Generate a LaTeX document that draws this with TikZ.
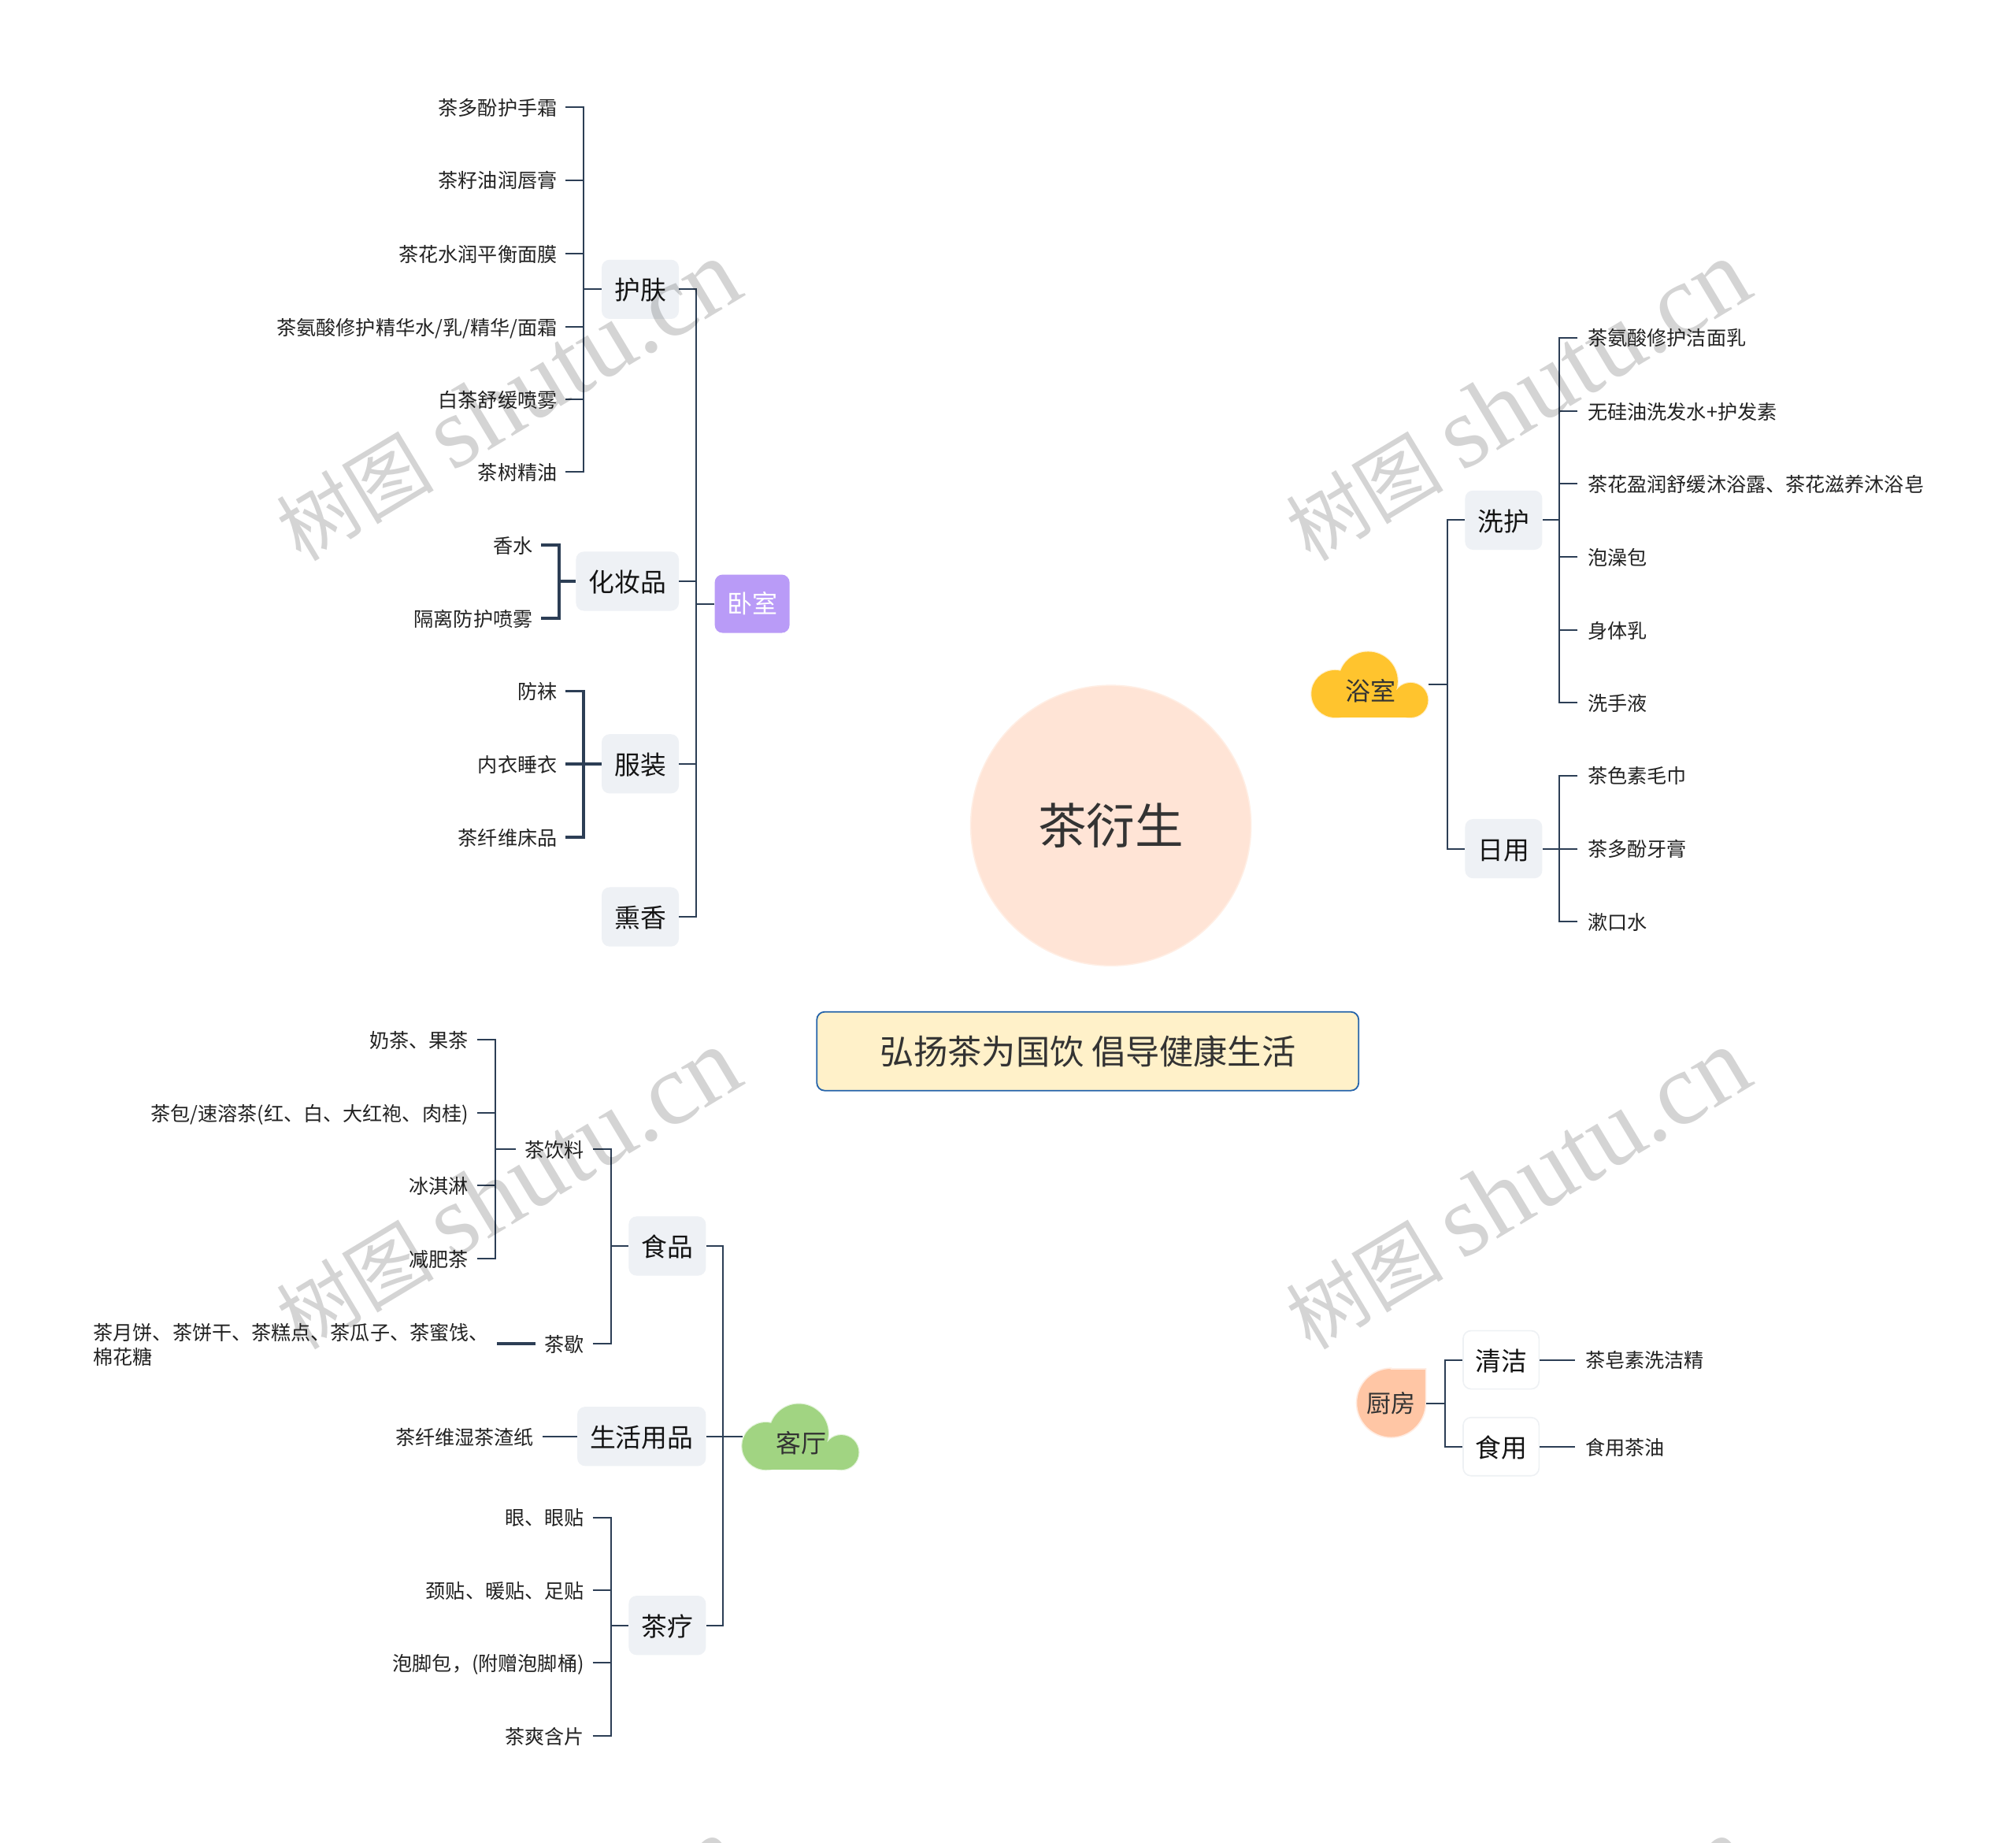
\documentclass[tikz,border=0pt]{standalone}
\usepackage{fontspec}
\setmainfont{Noto Sans CJK SC}
\newfontfamily\wmlatin{Liberation Serif}
\definecolor{linec}{HTML}{2C3E55}
\definecolor{boxc}{HTML}{EEF1F5}
\definecolor{boxb}{HTML}{EEF1F4}
\definecolor{txtc}{HTML}{222222}
\definecolor{catc}{HTML}{333333}
\newcommand\fs[1]{\fontsize{#1pt}{#1pt}\selectfont}
\newcommand\mmcloud[4]{%
 \begin{scope}[shift={(#1,#2)},scale=0.6125]
  \path[draw=#4,line width=1.2pt] (72,38) circle[radius=37.5] (30,54) circle[radius=30] (126,62) circle[radius=22];
  \path[fill=#3] (72,38) circle[radius=37.5] (30,54) circle[radius=30] (126,62) circle[radius=22];
  \path[fill=#3] (30,50) rectangle (126,84);
 \end{scope}}
\tikzset{
 x=0.81633pt,y=-0.81633pt,
 conn/.style={draw=linec,line width=1pt},
 connT/.style={draw=linec,line width=1.9pt},
 leafbase/.style={inner ysep=0pt,text=txtc,font=\fs{12.55},text height=12pt,text depth=1.6pt},
 leafL/.style={leafbase,anchor=east,inner xsep=5.3pt},
 leafR/.style={leafbase,anchor=west,inner xsep=6.4pt},
 midbox/.style={fill=boxc,rounded corners=5pt,inner sep=0pt,minimum height=37.6pt,minimum width=#1*0.81633pt,text=black!92,font=\fs{16.4},text height=16pt,text depth=2.4pt},
 whitebox/.style={fill=white,draw=boxb,line width=.8pt,rounded corners=5pt,inner sep=0pt,minimum height=37pt,minimum width=#1*0.81633pt,text=black!92,font=\fs{16.4},text height=16pt,text depth=2.4pt},
 catlabel/.style={inner sep=0pt,text=catc,font=\fs{16}},
 wmark/.style={rotate=31,inner sep=0pt,text=black,text opacity=.17},
}
\newcommand\wmtext{{\fs{50}树图}\hspace{12pt}{\wmlatin\fs{65}shutu.cn}}
\begin{document}
\begin{tikzpicture}
\useasboundingbox[fill=white] (0,0) rectangle (1568,1433);

% root and banner
\node[circle,minimum size=178pt,inner sep=0pt,fill={rgb,255:red,255;green,228;blue,214},draw={rgb,255:red,255;green,238;blue,228},line width=.8pt,text=catc,font=\fs{30.8}] (root) at (864,642) {茶衍生};
\node[draw={rgb,255:red,38;green,100;blue,170},fill={rgb,255:red,255;green,241;blue,201},line width=.9pt,rounded corners=5pt,minimum width=344pt,minimum height=50pt,inner sep=0pt,text=catc,font=\fs{21.6}] (banner) at (846,817.5) {弘扬茶为国饮 倡导健康生活};

% ---------- bedroom
\node[fill={rgb,255:red,185;green,155;blue,247},rounded corners=5pt,minimum width=47.5pt,minimum height=37pt,inner sep=0pt,text=white,font=\fs{16}] (woshi) at (585,469.5) {卧室};
\node[midbox=60] (hufu) at (498,225) {护肤};
\node[midbox=80] (huazhuang) at (488,452) {化妆品};
\node[midbox=60] (fuzhuang) at (498,594) {服装};
\node[midbox=60] (xunxiang) at (498,713) {熏香};
\coordinate (wsp) at (541.5,469.5);
\draw[conn] (woshi.west) -- (wsp);
\foreach \n in {hufu,huazhuang,fuzhuang,xunxiang} \draw[conn] (\n.east) -| (wsp);

\node[leafL] (a1) at (440,83.5) {茶多酚护手霜};
\node[leafL] (a2) at (440,140) {茶籽油润唇膏};
\node[leafL] (a3) at (440,197) {茶花水润平衡面膜};
\node[leafL] (a4) at (440,254) {茶氨酸修护精华水/乳/精华/面霜};
\node[leafL] (a5) at (440,310.5) {白茶舒缓喷雾};
\node[leafL] (a6) at (440,367) {茶树精油};
\coordinate (asp) at (454,225);
\draw[conn] (hufu.west) -- (asp);
\foreach \n in {a1,a2,a3,a4,a5,a6} \draw[conn] (\n.east) -| (asp);

\node[leafL] (b1) at (421,424) {香水};
\node[leafL] (b2) at (421,481) {隔离防护喷雾};
\coordinate (bsp) at (435,452);
\draw[connT] (huazhuang.west) -- (bsp);
\foreach \n in {b1,b2} \draw[connT] (\n.east) -| (bsp);

\node[leafL] (c1) at (440,537.5) {防袜};
\node[leafL] (c2) at (440,594) {内衣睡衣};
\node[leafL] (c3) at (440,651) {茶纤维床品};
\coordinate (csp) at (454,594);
\draw[connT] (fuzhuang.west) -- (csp);
\foreach \n in {c1,c2,c3} \draw[connT] (\n.east) -| (csp);

% ---------- bathroom
\mmcloud{1020}{506.5}{{rgb,255:red,255;green,196;blue,46}}{{rgb,255:red,255;green,240;blue,205}}
\node[catlabel] (yushi) at (1066,537) {浴室};
\coordinate (yuport) at (1111,532.5);
\coordinate (dsp) at (1125.5,532.5);
\draw[conn] (yuport) -- (dsp);
\node[midbox=60] (xihu) at (1169.5,404.5) {洗护};
\node[midbox=60] (riyong) at (1169.5,660) {日用};
\foreach \n in {xihu,riyong} \draw[conn] (\n.west) -| (dsp);

\node[leafR] (e1) at (1227,262.5) {茶氨酸修护洁面乳};
\node[leafR] (e2) at (1227,319.5) {无硅油洗发水+护发素};
\node[leafR] (e3) at (1227,376) {茶花盈润舒缓沐浴露、茶花滋养沐浴皂};
\node[leafR] (e4) at (1227,433) {泡澡包};
\node[leafR] (e5) at (1227,490) {身体乳};
\node[leafR] (e6) at (1227,546.5) {洗手液};
\coordinate (esp) at (1213,404.5);
\draw[conn] (xihu.east) -- (esp);
\foreach \n in {e1,e2,e3,e4,e5,e6} \draw[conn] (\n.west) -| (esp);

\node[leafR] (f1) at (1227,603) {茶色素毛巾};
\node[leafR] (f2) at (1227,660) {茶多酚牙膏};
\node[leafR] (f3) at (1227,716.5) {漱口水};
\coordinate (fsp) at (1213,660);
\draw[conn] (riyong.east) -- (fsp);
\foreach \n in {f1,f2,f3} \draw[conn] (\n.west) -| (fsp);

% ---------- living room
\mmcloud{577.2}{1091.5}{{rgb,255:red,161;green,212;blue,130}}{{rgb,255:red,228;green,244;blue,220}}
\node[catlabel] (keting) at (623,1122) {客厅};
\coordinate (keport) at (577.5,1117);
\coordinate (gsp) at (562.5,1117);
\draw[conn] (keport) -- (gsp);
\node[midbox=60] (shipin) at (519,969) {食品};
\node[midbox=100] (shenghuo) at (499,1117) {生活用品};
\node[midbox=60] (chaliao) at (519,1264) {茶疗};
\foreach \n in {shipin,shenghuo,chaliao} \draw[conn] (\n.east) -| (gsp);

\node[leafL] (h1) at (461,893.5) {茶饮料};
\node[leafL] (h2) at (461,1045) {茶歇};
\coordinate (hsp) at (475.5,969);
\draw[conn] (shipin.west) -- (hsp);
\foreach \n in {h1,h2} \draw[conn] (\n.east) -| (hsp);

\node[leafL] (i1) at (371,808.5) {奶茶、果茶};
\node[leafL] (i2) at (371,865.5) {茶包/速溶茶(红、白、大红袍、肉桂)};
\node[leafL] (i3) at (371,922) {冰淇淋};
\node[leafL] (i4) at (371,979) {减肥茶};
\coordinate (isp) at (385.5,893.5);
\draw[conn] (h1.west) -- (isp);
\foreach \n in {i1,i2,i3,i4} \draw[conn] (\n.east) -| (isp);

\node[anchor=east,inner xsep=5pt,inner ysep=0pt,text=txtc,align=left,font=\fontsize{12.55pt}{15.5pt}\selectfont] (j1) at (386.5,1046) {茶月饼、茶饼干、茶糕点、茶瓜子、茶蜜饯、\\棉花糖};
\draw[connT] (h2.west) -- (j1.east |- h2.west);

\node[leafL] (k1) at (422,1117) {茶纤维湿茶渣纸};
\draw[conn] (shenghuo.west) -- (k1.east);

\node[leafL] (l1) at (461,1180) {眼、眼贴};
\node[leafL] (l2) at (461,1236.5) {颈贴、暖贴、足贴};
\node[leafL] (l3) at (461,1293) {泡脚包，(附赠泡脚桶)};
\node[leafL] (l4) at (461,1350) {茶爽含片};
\coordinate (lsp) at (475.5,1264);
\draw[conn] (chaliao.west) -- (lsp);
\foreach \n in {l1,l2,l3,l4} \draw[conn] (\n.east) -| (lsp);

% ---------- kitchen
\path[fill={rgb,255:red,255;green,198;blue,165},draw={rgb,255:red,255;green,236;blue,226},line width=.8pt]
  (1082,1064.5) -- (1109,1064.5) -- (1109,1091) arc[start angle=0,end angle=270,radius=27] -- cycle;
\node[catlabel,minimum width=44pt,font=\fs{15.5}] (chufang) at (1082,1091.5) {厨房};
\coordinate (msp) at (1124,1091.5);
\draw[conn] (chufang.east) -- (msp);
\node[whitebox=59] (qingjie) at (1167.5,1057.5) {清洁};
\node[whitebox=59] (shiyong) at (1167.5,1125) {食用};
\foreach \n in {qingjie,shiyong} \draw[conn] (\n.west) -| (msp);
\node[leafR] (n1) at (1225,1057.5) {茶皂素洗洁精};
\node[leafR] (n2) at (1225,1125) {食用茶油};
\draw[conn] (qingjie.east) -- (n1.west);
\draw[conn] (shiyong.east) -- (n2.west);

% ---------- watermark
\begin{scope}
\clip (0,0) rectangle (1568,1433);
\node[wmark] (wm1) at (395,312) {\wmtext};
\node[wmark] (wm2) at (1180,312) {\wmtext};
\node[wmark] (wm3) at (395,925) {\wmtext};
\node[wmark] (wm4) at (1180,925) {\wmtext};
\node[wmark] (wm5) at (395,1538) {\wmtext};
\node[wmark] (wm6) at (1180,1538) {\wmtext};
\end{scope}
\end{tikzpicture}
\end{document}
